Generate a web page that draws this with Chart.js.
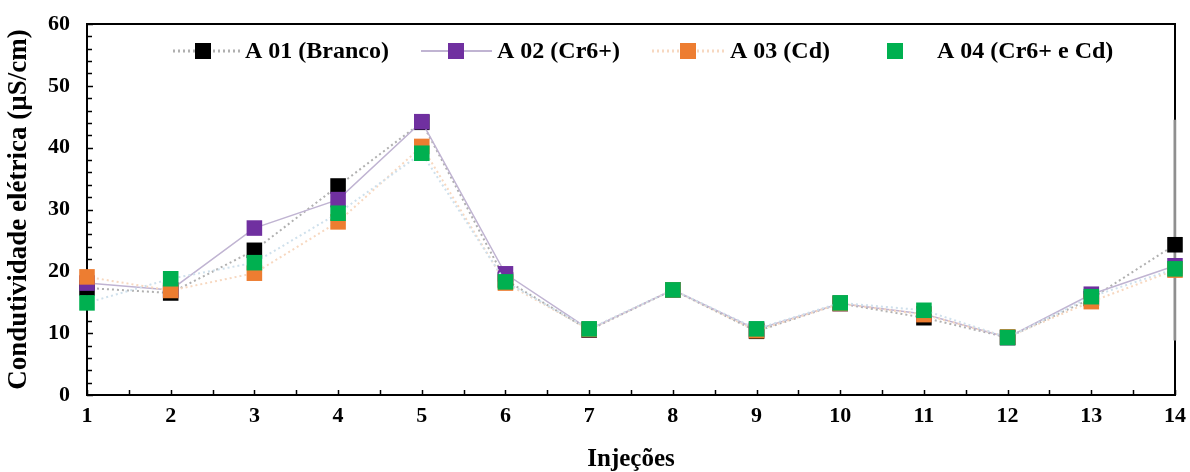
<!DOCTYPE html>
<html>
<head>
<meta charset="utf-8">
<script src="https://cdn.jsdelivr.net/npm/chart.js@4"></script>
<style>
  html, body { margin: 0; padding: 0; background: #ffffff; }
  #wrap { width: 1190px; height: 472px; position: relative; }
</style>
</head>
<body>
<div id="wrap"><canvas id="c" width="1190" height="472"></canvas></div>
<script>
const categories = ['1','2','3','4','5','6','7','8','9','10','11','12','13','14'];
const seriesNames = ['A 01 (Branco)', 'A 02 (Cr6+)', 'A 03 (Cd)', 'A 04 (Cr6+ e Cd)'];
const a01 = [17.3, 16.5, 23.4, 33.8, 44.1, 18.6, 10.5, 17.0, 10.3, 14.8, 12.5, 9.3, 15.6, 24.3];
const a02 = [18.1, 17.0, 27.0, 31.6, 44.2, 19.6, 10.6, 17.0, 10.6, 14.8, 13.1, 9.3, 16.3, 20.9];
const a03 = [19.1, 16.9, 19.7, 28.0, 40.2, 18.1, 10.6, 17.0, 10.4, 14.8, 13.0, 9.4, 15.1, 20.2];
const a04 = [14.9, 18.8, 21.4, 29.4, 39.1, 18.3, 10.7, 17.0, 10.7, 14.9, 13.7, 9.3, 15.9, 20.4];
const barAt14 = [44.5, 8.8];
const yMin = 0, yMax = 60, yStep = 10;

const FONT = "'Liberation Serif', 'Times New Roman', serif";
const markerColors = ['#000000', '#7030a0', '#ed7d31', '#00b050'];
const lineColors = ['#b0b0b0', '#c0b4d2', '#f7d8c0', '#cfe0ec'];
const lineDash = [[2, 3], [], [2, 3], [2, 3]];

const series = [a01, a02, a03, a04];
const drawOrder = [3, 2, 1, 0];

const datasets = series.map((vals, i) => ({
  label: seriesNames[i],
  data: vals,
  borderColor: lineColors[i],
  borderWidth: i === 1 ? 1.5 : 2,
  borderDash: lineDash[i],
  backgroundColor: markerColors[i],
  pointBackgroundColor: markerColors[i],
  pointBorderColor: markerColors[i],
  pointBorderWidth: 0,
  pointStyle: 'rect',
  pointRadius: 11,
  pointHoverRadius: 11,
  tension: 0,
  order: drawOrder[i]
}));

datasets.push({
  label: 'bar14',
  data: [{x: '14', y: barAt14[0]}, {x: '14', y: barAt14[1]}],
  borderColor: '#8f8f8f',
  borderWidth: 3,
  pointRadius: 0,
  order: 10
});

const framePlugin = {
  id: 'frame',
  beforeDatasetsDraw(chart) {
    const {ctx, chartArea: a, scales: {x, y}} = chart;
    ctx.save();
    ctx.strokeStyle = '#000';
    ctx.lineWidth = 1.5;
    for (let v = yMin; v <= yMax; v += 2) {
      const py = Math.round(y.getPixelForValue(v)) + 0.5;
      const len = (v % yStep === 0) ? 6 : 5;
      ctx.beginPath();
      ctx.moveTo(a.left, py);
      ctx.lineTo(a.left + len, py);
      ctx.stroke();
    }
    for (let i = 0; i < categories.length; i++) {
      for (const h of [0, 0.5]) {
        if (i + h > categories.length - 1) continue;
        const p0 = x.getPixelForValue(i);
        const p1 = x.getPixelForValue(Math.min(i + 1, categories.length - 1));
        const px = Math.round(p0 + (p1 - p0) * h) + 0.5;
        ctx.beginPath();
        ctx.moveTo(px, a.bottom);
        ctx.lineTo(px, a.bottom - 5);
        ctx.stroke();
      }
    }
    ctx.lineWidth = 2;
    ctx.strokeRect(a.left, a.top, a.right - a.left, a.bottom - a.top);
    ctx.restore();
  },
  afterDraw(chart) {
    const {ctx} = chart;
    const items = [
      {line: [173, 241], marker: 203, text: 245},
      {line: [421, 492], marker: 456, text: 497},
      {line: [652, 724], marker: 688, text: 730},
      {line: null, marker: 895, text: 937}
    ];
    const yc = 51;
    ctx.save();
    items.forEach((it, i) => {
      if (it.line) {
        ctx.strokeStyle = lineColors[i];
        ctx.lineWidth = i === 1 ? 2 : 3;
        ctx.setLineDash(lineDash[i]);
        ctx.beginPath();
        ctx.moveTo(it.line[0], yc);
        ctx.lineTo(it.line[1], yc);
        ctx.stroke();
        ctx.setLineDash([]);
      }
      ctx.fillStyle = markerColors[i];
      ctx.fillRect(it.marker - 8, yc - 8, 16, 16);
      ctx.fillStyle = '#000';
      ctx.font = "bold 24px " + FONT;
      ctx.textBaseline = 'middle';
      ctx.textAlign = 'left';
      ctx.fillText(seriesNames[i], it.text, yc + 1);
    });
    ctx.restore();
  }
};

new Chart(document.getElementById('c'), {
  type: 'line',
  data: { labels: categories, datasets },
  options: {
    responsive: false,
    animation: false,
    events: [],
    layout: { padding: { top: 24, right: 15, bottom: 0, left: 0 } },
    plugins: { legend: { display: false }, tooltip: { enabled: false } },
    scales: {
      x: {
        type: 'category',
        offset: false,
        grid: { display: false, drawTicks: false },
        border: { display: false },
        ticks: {
          color: '#000', padding: 8, maxRotation: 0, autoSkip: false,
          font: { family: FONT, size: 22, weight: 'bold' }
        },
        title: {
          display: true, text: 'Injeções', color: '#000',
          font: { family: FONT, size: 25, weight: 'bold' },
          padding: { top: 0, bottom: -3 }
        },
        afterFit(s) { s.height = 77; s.paddingLeft = 0; s.paddingRight = 0; }
      },
      y: {
        min: yMin, max: yMax,
        grid: { display: false, drawTicks: false },
        border: { display: false },
        ticks: {
          stepSize: yStep, color: '#000', padding: 17,
          font: { family: FONT, size: 22, weight: 'bold' }
        },
        title: {
          display: true, text: 'Condutividade elétrica (µS/cm)', color: '#000',
          font: { family: FONT, size: 27, weight: 'bold' },
          padding: { top: 3, bottom: 0 }
        },
        afterFit(s) { s.width = 87; s.paddingTop = 0; s.paddingBottom = 0; }
      }
    }
  },
  plugins: [framePlugin]
});
</script>
</body>
</html>
